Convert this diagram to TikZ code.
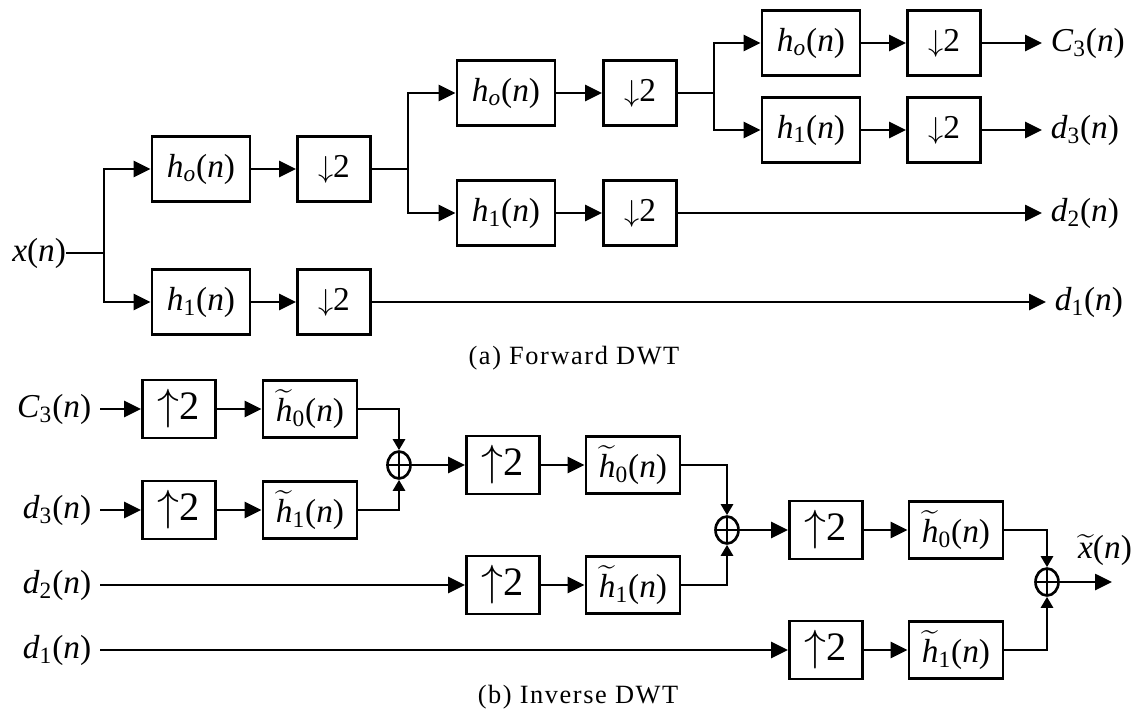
\documentclass[tikz,border=0pt]{standalone}
\usepackage{fontspec}
\setmainfont{Liberation Serif}
\usepackage{amsmath}
\usepackage{tikz}
\usetikzlibrary{arrows.meta, shapes.geometric}

\newcommand{\sg}[2]{\textit{#1}\textsubscript{#2}(\textit{n})}
\newcommand{\tl}[2]{$\widetilde{\mbox{\textit{#1}}}$\textsubscript{#2}(\textit{n})}

\begin{document}
\begin{tikzpicture}[x=0.02cm, y=-0.02cm, line width=1.5pt,
    hbox/.style={draw, line width=1.6pt, minimum width=1.96cm, minimum height=1.3cm, inner sep=0pt, font=\fontsize{19}{22}\selectfont},
    dbox/.style={draw, line width=1.6pt, minimum width=1.46cm, minimum height=1.3cm, inner sep=0pt, font=\fontsize{19}{22}\selectfont},
    ubox/.style={draw, line width=1.6pt, minimum width=1.46cm, minimum height=1.16cm, inner sep=0pt, font=\fontsize{23}{25}\selectfont},
    tbox/.style={draw, line width=1.6pt, minimum width=1.88cm, minimum height=1.14cm, inner sep=0pt, font=\fontsize{19}{22}\selectfont},
    sig/.style={inner sep=0pt, outer xsep=5pt, font=\fontsize{19}{22}\selectfont},
    capt/.style={font=\fontsize{15}{17}\selectfont\addfontfeature{LetterSpace=6}},
    sum/.style={draw, ellipse, minimum width=0.46cm, minimum height=0.54cm, inner sep=0pt,
        path picture={\draw[line width=1.2pt] (path picture bounding box.north) -- (path picture bounding box.south)
            (path picture bounding box.west) -- (path picture bounding box.east);}},
    arr/.style={-{Triangle[length=0.34cm, width=0.32cm]}},
    sarr/.style={-{Triangle[length=0.22cm, width=0.24cm]}}]
    \useasboundingbox (0,0) rectangle (1136,717);

    % forward transform
    \node[sig, outer sep=0pt, anchor=east] (xin) at (66,253) {\textit{x}(\textit{n})};
    \coordinate (j1) at (104,253);
    \node[hbox] (ha0) at (201,169) {\sg{h}{\textit{o}}};
    \node[dbox] (da0) at (334,169) {$\downarrow$2};
    \node[hbox] (ha1) at (201,302) {\sg{h}{1}};
    \node[dbox] (da1) at (334,302) {$\downarrow$2};
    \coordinate (j2) at (408,169);
    \node[hbox] (hb0) at (506,93) {\sg{h}{\textit{o}}};
    \node[dbox] (db0) at (640,93) {$\downarrow$2};
    \node[hbox] (hb1) at (506,213) {\sg{h}{1}};
    \node[dbox] (db1) at (640,213) {$\downarrow$2};
    \coordinate (j3) at (714,93);
    \node[hbox] (hc0) at (811,43) {\sg{h}{\textit{o}}};
    \node[dbox] (dc0) at (944,43) {$\downarrow$2};
    \node[hbox] (hc1) at (811,130) {\sg{h}{1}};
    \node[dbox] (dc1) at (944,130) {$\downarrow$2};
    \node[sig, anchor=west] (c3) at (1042,43) {\sg{C}{3}};
    \node[sig, anchor=west] (d3) at (1042,130) {\sg{d}{3}};
    \node[sig, anchor=west] (d2) at (1042,213) {\sg{d}{2}};
    \node[sig, anchor=west] (d1) at (1046,302) {\sg{d}{1}};

    \draw (xin.east) -- (j1);
    \draw[arr] (j1) |- (ha0.west);
    \draw[arr] (j1) |- (ha1.west);
    \draw[arr] (ha0) -- (da0);
    \draw[arr] (ha1) -- (da1);
    \draw (da0.east) -- (j2);
    \draw[arr] (j2) |- (hb0.west);
    \draw[arr] (j2) |- (hb1.west);
    \draw[arr] (hb0) -- (db0);
    \draw[arr] (hb1) -- (db1);
    \draw (db0.east) -- (j3);
    \draw[arr] (j3) |- (hc0.west);
    \draw[arr] (j3) |- (hc1.west);
    \draw[arr] (hc0) -- (dc0);
    \draw[arr] (hc1) -- (dc1);
    \draw[arr] (dc0.east) -- (c3.west);
    \draw[arr] (dc1.east) -- (d3.west);
    \draw[arr] (db1.east) -- (d2.west);
    \draw[arr] (da1.east) -- (d1.west);

    \node[capt] (fcap) at (574,358) {(a) Forward DWT};

    % inverse transform
    \node[sig, anchor=east] (ic3) at (100,409) {\sg{C}{3}};
    \node[ubox] (ua0) at (179,409) {$\uparrow$2};
    \node[tbox] (ta0) at (310,409) {\tl{h}{0}};
    \node[sig, anchor=east] (id3) at (100,510) {\sg{d}{3}};
    \node[ubox] (ua1) at (179,510) {$\uparrow$2};
    \node[tbox] (ta1) at (310,510) {\tl{h}{1}};
    \node[sum] (s1) at (399,465) {};
    \node[ubox] (ub0) at (503,465) {$\uparrow$2};
    \node[tbox] (tb0) at (633,465) {\tl{h}{0}};
    \node[sig, anchor=east] (id2) at (100,585) {\sg{d}{2}};
    \node[ubox] (ub1) at (503,585) {$\uparrow$2};
    \node[tbox] (tb1) at (633,585) {\tl{h}{1}};
    \node[sum] (s2) at (727,530) {};
    \node[ubox] (uc0) at (826,530) {$\uparrow$2};
    \node[tbox] (tc0) at (956,530) {\tl{h}{0}};
    \node[sig, anchor=east] (id1) at (100,650) {\sg{d}{1}};
    \node[ubox] (uc1) at (826,650) {$\uparrow$2};
    \node[tbox] (tc1) at (956,650) {\tl{h}{1}};
    \node[sum] (s3) at (1047,582) {};
    \coordinate (xo) at (1112,582);
    \node[sig] (xr) at (1105,550) {$\widetilde{\mbox{\textit{x}}}$(\textit{n})};

    \draw[arr] (ic3.east) -- (ua0);
    \draw[arr] (ua0) -- (ta0);
    \draw[arr] (id3.east) -- (ua1);
    \draw[arr] (ua1) -- (ta1);
    \draw[sarr] (ta0.east) -| (s1.north);
    \draw[sarr] (ta1.east) -| (s1.south);
    \draw[arr] (s1) -- (ub0);
    \draw[arr] (ub0) -- (tb0);
    \draw[arr] (id2.east) -- (ub1);
    \draw[arr] (ub1) -- (tb1);
    \draw[sarr] (tb0.east) -| (s2.north);
    \draw[sarr] (tb1.east) -| (s2.south);
    \draw[arr] (s2) -- (uc0);
    \draw[arr] (uc0) -- (tc0);
    \draw[arr] (id1.east) -- (uc1);
    \draw[arr] (uc1) -- (tc1);
    \draw[sarr] (tc0.east) -| (s3.north);
    \draw[sarr] (tc1.east) -| (s3.south);
    \draw[arr] (s3) -- (xo);

    \node[capt] (icap) at (578,697) {(b) Inverse DWT};
\end{tikzpicture}
\end{document}
